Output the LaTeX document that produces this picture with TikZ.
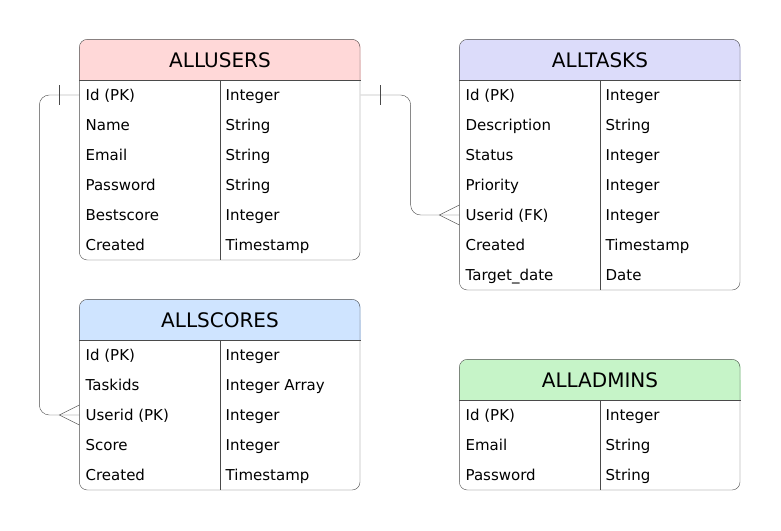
\documentclass[tikz,border=0pt]{standalone}
\usepackage{fontspec}
\setmainfont{DejaVu Sans}
\usepackage{tikz}
\usetikzlibrary{positioning,calc,backgrounds}
\definecolor{edgegray}{HTML}{4A4A4A}
\definecolor{userspink}{HTML}{FFD8D8}
\definecolor{taskslav}{HTML}{DCDCFA}
\definecolor{scoresblue}{HTML}{CFE4FF}
\definecolor{adminsgreen}{HTML}{C6F4C8}

\begin{document}
\begin{tikzpicture}[x=1pt, y=-1pt, line width=1.3pt,
    frame/.style={draw=edgegray, rounded corners=8pt},
    head/.style={minimum width=280pt, minimum height=40pt, inner sep=0pt,
      font=\fontsize{20}{24}\selectfont, text height=14.5pt, text depth=0pt},
    field/.style={anchor=west, inner sep=0pt, font=\fontsize{15}{18}\selectfont,
      text height=11pt, text depth=0pt},
    link/.style={draw=edgegray, rounded corners=10pt}]
  \useasboundingbox (0,0) rectangle (781,530);

  % table headers
  \node[head] (users)  at (220,60)  {ALLUSERS};
  \node[head] (tasks)  at (600,60)  {ALLTASKS};
  \node[head] (scores) at (220,320) {ALLSCORES};
  \node[head] (admins) at (600,380) {ALLADMINS};

  % fields of each table
  \foreach \f/\t [count=\i] in {Id (PK)/Integer, Name/String, Email/String,
      Password/String, Bestscore/Integer, Created/Timestamp} {
    \node[field] (users-f\i) at (85,65+30*\i) {\f};
    \node[field] (users-t\i) at (225,65+30*\i) {\t};
  }
  \coordinate (users-end) at (360,260);
  \foreach \f/\t [count=\i] in {Id (PK)/Integer, Description/String,
      Status/Integer, Priority/Integer, Userid (FK)/Integer,
      Created/Timestamp, Target\_date/Date} {
    \node[field] (tasks-f\i) at (465,65+30*\i) {\f};
    \node[field] (tasks-t\i) at (605,65+30*\i) {\t};
  }
  \coordinate (tasks-end) at (740,290);
  \foreach \f/\t [count=\i] in {Id (PK)/Integer, Taskids/Integer Array,
      Userid (PK)/Integer, Score/Integer, Created/Timestamp} {
    \node[field] (scores-f\i) at (85,325+30*\i) {\f};
    \node[field] (scores-t\i) at (225,325+30*\i) {\t};
  }
  \coordinate (scores-end) at (360,490);
  \foreach \f/\t [count=\i] in {Id (PK)/Integer, Email/String,
      Password/String} {
    \node[field] (admins-f\i) at (465,385+30*\i) {\f};
    \node[field] (admins-t\i) at (605,385+30*\i) {\t};
  }
  \coordinate (admins-end) at (740,490);

  % frames, header fills and column lines
  \foreach \tb/\c in {users/userspink, tasks/taskslav,
      scores/scoresblue, admins/adminsgreen} {
    \begin{pgfonlayer}{background}
      \fill[\c, rounded corners=8pt] (\tb.north west) rectangle (\tb.south east);
      \fill[\c] (\tb.west) rectangle (\tb.south east);
    \end{pgfonlayer}
    \draw[edgegray] (\tb.south west) -- (\tb.south east);
    \draw[edgegray] (\tb.south) -- (\tb.south |- \tb-end);
    \draw[frame] (\tb.north west) rectangle (\tb-end);
  }

  % users -- scores
  \draw[link] (users-f1 -| users.west) -- ++(-40,0)
    |- (scores-f3 -| scores.west);
  \draw[edgegray] ($(users-f1 -| users.west)+(-20,-10)$) -- ++(0,20);
  \draw[edgegray] ($(scores-f3 -| scores.west)+(0,-10)$) -- ++(-20,10)
    -- ++(20,10);
  % users -- tasks
  \draw[link] (users-t1 -| users.east) -- ++(50,0)
    |- (tasks-f5 -| tasks.west);
  \draw[edgegray] ($(users-t1 -| users.east)+(20,-10)$) -- ++(0,20);
  \draw[edgegray] ($(tasks-f5 -| tasks.west)+(0,-10)$) -- ++(-20,10)
    -- ++(20,10);
\end{tikzpicture}
\end{document}
